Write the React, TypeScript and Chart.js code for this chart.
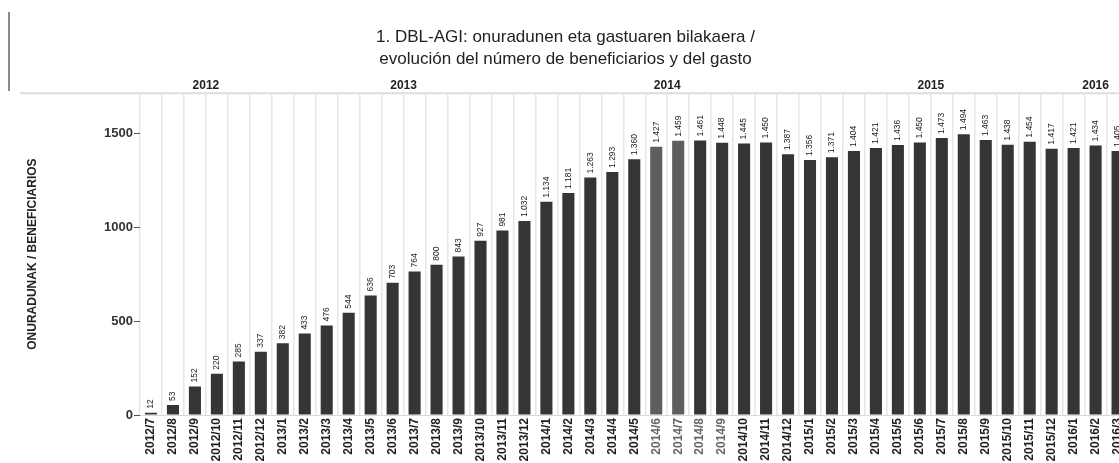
import React, { useEffect, useRef } from 'react';
import { Chart, registerables } from 'chart.js';

Chart.register(...registerables);

const categories = [
  '2012/7', '2012/8', '2012/9', '2012/10', '2012/11', '2012/12',
  '2013/1', '2013/2', '2013/3', '2013/4', '2013/5', '2013/6', '2013/7', '2013/8', '2013/9', '2013/10', '2013/11', '2013/12',
  '2014/1', '2014/2', '2014/3', '2014/4', '2014/5', '2014/6', '2014/7', '2014/8', '2014/9', '2014/10', '2014/11', '2014/12',
  '2015/1', '2015/2', '2015/3', '2015/4', '2015/5', '2015/6', '2015/7', '2015/8', '2015/9', '2015/10', '2015/11', '2015/12',
  '2016/1', '2016/2', '2016/3',
];

const beneficiaries = [
  12, 53, 152, 220, 285, 337,
  382, 433, 476, 544, 636, 703, 764, 800, 843, 927, 981, 1032,
  1134, 1181, 1263, 1293, 1360, 1427, 1459, 1461, 1448, 1445, 1450, 1387,
  1356, 1371, 1404, 1421, 1436, 1450, 1473, 1494, 1463, 1438, 1454, 1417,
  1421, 1434, 1405,
];

const highlightedBars = ['2014/6', '2014/7'];
const fadedLabels = ['2014/6', '2014/7', '2014/8', '2014/9'];
const yTicks = [0, 500, 1000, 1500];
const yMax = 1712;
const titleLines = [
  '1. DBL-AGI: onuradunen eta gastuaren bilakaera /',
  'evolución del número de beneficiarios y del gasto',
];
const yAxisTitle = 'ONURADUNAK / BENEFICIARIOS';

const FONT = '"Liberation Sans", Arial, sans-serif';
const DARK = '#353535';
const LIGHT = '#5e5e5e';

function fmt(v: number): string {
  const s = String(v);
  return s.length > 3 ? s.slice(0, s.length - 3) + '.' + s.slice(-3) : s;
}

const decorPlugin = {
  id: 'decor',
  beforeDraw(chart: any) {
    const { ctx, chartArea } = chart;
    ctx.save();
    ctx.strokeStyle = '#dddddd';
    ctx.lineWidth = 2;
    ctx.beginPath();
    ctx.moveTo(20, chartArea.top);
    ctx.lineTo(chart.width, chartArea.top);
    ctx.stroke();
    ctx.strokeStyle = '#8a8a8a';
    ctx.lineWidth = 2;
    ctx.beginPath();
    ctx.moveTo(9, 12);
    ctx.lineTo(9, 91);
    ctx.stroke();
    ctx.restore();
  },
  afterDatasetsDraw(chart: any) {
    const { ctx } = chart;
    const meta = chart.getDatasetMeta(0);
    const data = chart.data.datasets[0].data as number[];
    ctx.save();
    ctx.fillStyle = '#222';
    ctx.font = `8.5px ${FONT}`;
    ctx.textAlign = 'left';
    ctx.textBaseline = 'middle';
    meta.data.forEach((bar: any, i: number) => {
      ctx.save();
      ctx.translate(bar.x, bar.y - 4);
      ctx.rotate(-Math.PI / 2);
      ctx.fillText(fmt(data[i]), 0, 0);
      ctx.restore();
    });
    const xs = chart.scales.x;
    const groups: Record<string, number[]> = {};
    categories.forEach((c, i) => {
      const y = c.split('/')[0];
      (groups[y] = groups[y] || []).push(i);
    });
    ctx.font = `bold 12px ${FONT}`;
    ctx.textAlign = 'center';
    ctx.textBaseline = 'middle';
    ctx.fillStyle = '#222';
    Object.keys(groups).forEach((y) => {
      const idx = groups[y];
      const x = (xs.getPixelForValue(idx[0]) + xs.getPixelForValue(idx[idx.length - 1])) / 2;
      ctx.fillText(y, x, chart.chartArea.top - 8);
    });
    ctx.restore();
  },
};

export default function App() {
  const ref = useRef<HTMLCanvasElement | null>(null);

  useEffect(() => {
    if (!ref.current) return;
    const chart = new Chart(ref.current, {
      type: 'bar',
      data: {
        labels: categories,
        datasets: [
          {
            data: beneficiaries,
            backgroundColor: categories.map((c) => (highlightedBars.includes(c) ? LIGHT : DARK)),
            barPercentage: 0.55,
            categoryPercentage: 1,
          },
        ],
      },
      options: {
        responsive: false,
        animation: false,
        layout: { padding: { left: 0, right: 4, top: 0, bottom: 0 } },
        plugins: {
          legend: { display: false },
          tooltip: { enabled: false },
          title: {
            display: true,
            text: titleLines,
            color: '#222',
            font: { family: FONT, size: 17, weight: 'normal', lineHeight: 1.3 },
            padding: { top: 26, bottom: 23 },
          },
        },
        scales: {
          x: {
            offset: true,
            grid: { color: '#e6e6e6', lineWidth: 1.5, offset: true, drawTicks: false },
            border: { color: '#d8d8d8', width: 1 },
            ticks: {
              autoSkip: false,
              minRotation: 90,
              maxRotation: 90,
              padding: 3,
              color: (ctx: any) => (fadedLabels.includes(categories[ctx.index]) ? '#666' : '#1e1e1e'),
              font: { family: FONT, size: 12, weight: 'bold' },
            },
            afterFit(scale: any) {
              scale.height = 48;
            },
          },
          y: {
            min: 0,
            max: yMax,
            afterBuildTicks(scale: any) {
              scale.ticks = yTicks.map((v) => ({ value: v }));
            },
            grid: { drawOnChartArea: false, drawTicks: true, tickLength: 6, color: '#555' },
            border: { display: false },
            ticks: {
              padding: 1,
              color: '#333',
              font: { family: FONT, size: 13, weight: 'bold' },
              callback: (v: any) => String(v),
            },
            title: {
              display: true,
              text: yAxisTitle,
              color: '#222',
              font: { family: FONT, size: 12, weight: 'bold' },
              padding: { top: 25, bottom: 0 },
            },
            afterFit(scale: any) {
              scale.width = 140;
            },
          },
        },
      },
      plugins: [decorPlugin],
    });
    return () => chart.destroy();
  }, []);

  return (
    <div
      style={{
        position: 'absolute',
        left: 0,
        top: 0,
        width: 1119,
        height: 463,
        overflow: 'hidden',
        background: '#fff',
      }}
    >
      <canvas ref={ref} width={1135} height={463} style={{ display: 'block' }} />
    </div>
  );
}
